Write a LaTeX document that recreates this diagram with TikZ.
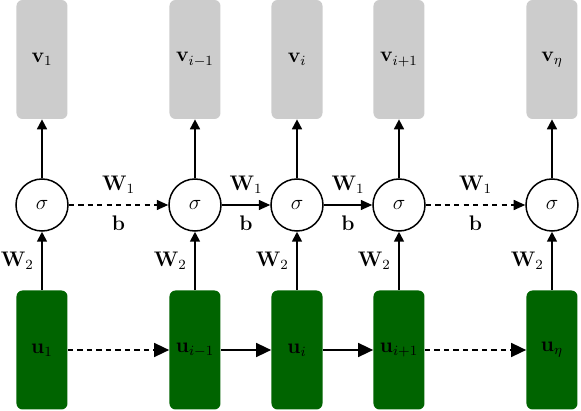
\documentclass[tikz,border=0pt]{standalone}
\usetikzlibrary{arrows.meta}

% Colours
\definecolor{r0g100b0}{rgb}{0.000000,0.392157,0.000000}%
\definecolor{r204g204b204}{rgb}{0.800000,0.800000,0.800000}%

\tikzset{
  outbox/.style={fill=r204g204b204, rounded corners=0.12cm, minimum width=1.020000cm, minimum height=2.380000cm, inner sep=0cm},
  inbox/.style={fill=r0g100b0, rounded corners=0.12cm, minimum width=1.020000cm, minimum height=2.380000cm, inner sep=0cm},
  sigmanode/.style={circle, draw, line width=0.030000cm, minimum size=1.040000cm, inner sep=0cm, fill=white},
  uplink/.style={line width=0.035000cm, -{Triangle[length=0.200000cm,width=0.200000cm]}},
  sidelink/.style={line width=0.030000cm, -{Triangle[length=0.230000cm,width=0.200000cm]}},
  lowlink/.style={line width=0.030000cm, -{Triangle[length=0.300000cm,width=0.280000cm]}},
  dashed link/.style={dash pattern=on 3pt off 2.4pt},
}

\begin{document}
\begin{tikzpicture}[every node/.style={font=\large}]
            \useasboundingbox (0,0) rectangle (11.620000,8.220000);

            % Drawing output boxes v
            \node [outbox] (v1)   at (0.840000,7.030000)  {$\mathbf{v}_1$};%
            \node [outbox] (vim)  at (3.900000,7.030000)  {$\mathbf{v}_{i-1}$};%
            \node [outbox] (vi)   at (5.940000,7.030000)  {$\mathbf{v}_i$};%
            \node [outbox] (vip)  at (7.980000,7.030000)  {$\mathbf{v}_{i+1}$};%
            \node [outbox] (veta) at (11.040000,7.030000) {$\mathbf{v}_\eta$};%

            % Drawing sigma nodes
            \node [sigmanode] (s1)   at (0.840000,4.120000)  {$\sigma$};%
            \node [sigmanode] (sim)  at (3.900000,4.120000)  {$\sigma$};%
            \node [sigmanode] (si)   at (5.940000,4.120000)  {$\sigma$};%
            \node [sigmanode] (sip)  at (7.980000,4.120000)  {$\sigma$};%
            \node [sigmanode] (seta) at (11.040000,4.120000) {$\sigma$};%

            % Drawing input boxes u
            \node [inbox] (u1)   at (0.840000,1.220000)  {$\mathbf{u}_1$};%
            \node [inbox] (uim)  at (3.900000,1.220000)  {$\mathbf{u}_{i-1}$};%
            \node [inbox] (ui)   at (5.940000,1.220000)  {$\mathbf{u}_i$};%
            \node [inbox] (uip)  at (7.980000,1.220000)  {$\mathbf{u}_{i+1}$};%
            \node [inbox] (ueta) at (11.040000,1.220000) {$\mathbf{u}_\eta$};%

            % Drawing arrows sigma v
            \draw [uplink] (s1)   -- (v1);%
            \draw [uplink] (sim)  -- (vim);%
            \draw [uplink] (si)   -- (vi);%
            \draw [uplink] (sip)  -- (vip);%
            \draw [uplink] (seta) -- (veta);%

            % Drawing arrows u sigma W2
            \draw [uplink] (u1)   -- node [left=0.030000cm] {$\mathbf{W}_2$} (s1);%
            \draw [uplink] (uim)  -- node [left=0.030000cm] {$\mathbf{W}_2$} (sim);%
            \draw [uplink] (ui)   -- node [left=0.030000cm] {$\mathbf{W}_2$} (si);%
            \draw [uplink] (uip)  -- node [left=0.030000cm] {$\mathbf{W}_2$} (sip);%
            \draw [uplink] (ueta) -- node [left=0.030000cm] {$\mathbf{W}_2$} (seta);%

            % Drawing arrows sigma sigma W1 b
            \draw [sidelink, dashed link] (s1)  -- node [above=0.100000cm] {$\mathbf{W}_1$} node [below=0.080000cm] {$\mathbf{b}$} (sim);%
            \draw [sidelink]              (sim) -- node [above=0.100000cm] {$\mathbf{W}_1$} node [below=0.080000cm] {$\mathbf{b}$} (si);%
            \draw [sidelink]              (si)  -- node [above=0.100000cm] {$\mathbf{W}_1$} node [below=0.080000cm] {$\mathbf{b}$} (sip);%
            \draw [sidelink, dashed link] (sip) -- node [above=0.100000cm] {$\mathbf{W}_1$} node [below=0.080000cm] {$\mathbf{b}$} (seta);%

            % Drawing arrows u u
            \draw [lowlink, dashed link] (u1)  -- (uim);%
            \draw [lowlink]              (uim) -- (ui);%
            \draw [lowlink]              (ui)  -- (uip);%
            \draw [lowlink, dashed link] (uip) -- (ueta);%
\end{tikzpicture}
\end{document}
